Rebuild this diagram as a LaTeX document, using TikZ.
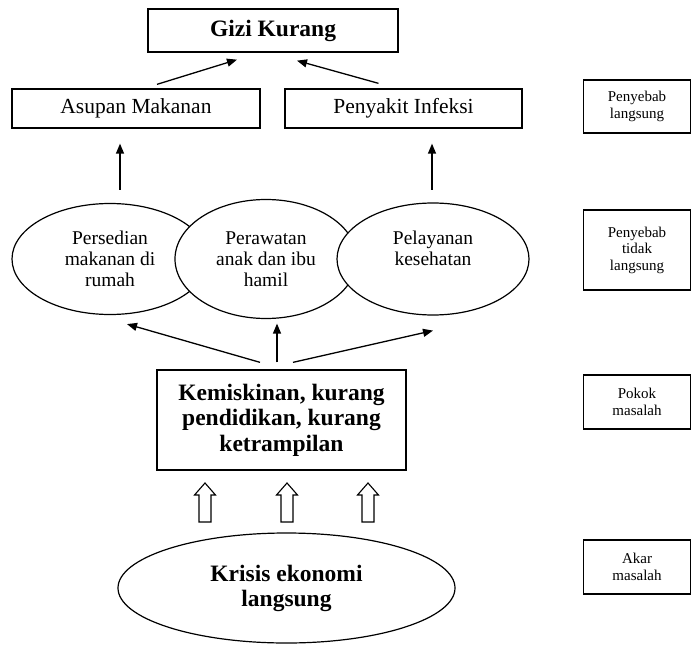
\documentclass[tikz,border=0pt]{standalone}
\usepackage{fontspec}
\setmainfont{Liberation Serif}
\usetikzlibrary{arrows.meta,shapes.geometric,calc}
\begin{document}
\begin{tikzpicture}[x=1pt,y=-1pt,
  box/.style={draw=black,line width=1.3pt,rectangle,inner sep=0pt,align=center},
  bigbold/.style={font=\bfseries\fontsize{23.5}{25.5}\selectfont},
  boxtext/.style={font=\fontsize{21.5}{24}\selectfont},
  ell/.style={draw=black,line width=1.2pt,ellipse,fill=white,inner sep=0pt,align=center,font=\fontsize{19.5}{20.8}\selectfont},
  side/.style={draw=black,line width=1.8pt,rectangle,inner sep=0pt,align=center,minimum width=107,font=\fontsize{15}{16.5}\selectfont},
  arr/.style={line width=1.3pt,-{Triangle[length=10pt,width=8pt]}},
  hollow/.pic={\draw[line width=1.1pt,fill=white,line join=miter]
      (-6,0) -- (-6,-27) -- (-10.5,-27) -- (0,-39) -- (10.5,-27) -- (6,-27) -- (6,0) -- cycle;}
]
\useasboundingbox (0,0) rectangle (692,644);

% top level
\node[box,bigbold,minimum width=250,minimum height=43] (gizi) at (273,30.5) {Gizi Kurang};
\node[box,boxtext,minimum width=248,minimum height=39] (asupan) at (136,108.5) {Asupan Makanan};
\node[box,boxtext,minimum width=237,minimum height=39] (infeksi) at (403.5,108.5) {Penyakit Infeksi};

\coordinate (g1) at ($(asupan.north)+(21,-4)$);
\coordinate (g2) at ($(infeksi.north)+(-25,-5)$);
\draw[arr] (g1) -- ($(gizi.south)+(-36,7)$);
\draw[arr] (g2) -- ($(gizi.south)+(24,8)$);

% ellipses
\node[ell,minimum width=196,minimum height=111] (persed) at (110,259) {Persedian\\makanan di\\rumah};
\node[ell,minimum width=182,minimum height=119] (rawat) at (266,259) {Perawatan\\anak dan ibu\\hamil};
\node[ell,minimum width=192,minimum height=112] (layan) at (433,259) {Pelayanan\\kesehatan\\\mbox{}};

\coordinate (p1) at (120,190);
\coordinate (p2) at (432,190);
\draw[arr,shorten >=15pt] (p1) -- (asupan.south -| p1);
\draw[arr,shorten >=15pt] (p2) -- (infeksi.south -| p2);

% pokok masalah
\node[box,bigbold,minimum width=249,minimum height=100] (miskin) at (281.5,420) {Kemiskinan, kurang\\pendidikan, kurang\\ketrampilan};
\coordinate (m1) at ($(miskin.north)+(-21.5,-7)$);
\coordinate (m2) at ($(miskin.north)+(-4.5,-7)$);
\coordinate (m3) at ($(miskin.north)+(11.5,-7)$);
\draw[arr] (m1) -- ($(persed.south)+(17,9)$);
\draw[arr] (m2) -- (m2 |- {$(rawat.south)+(0,4.5)$});
\draw[arr] (m3) -- ($(layan.south)+(0,15)$);

% akar masalah
\node[ell,font=\bfseries\fontsize{23.5}{25}\selectfont,minimum width=337,minimum height=110] (krisis) at (286.5,588) {Krisis ekonomi\\langsung};

\pic at (205,522) {hollow};
\pic at (287,522) {hollow};
\pic at (368,522) {hollow};

% side labels
\node[side,minimum height=53] (l1) at (637,106.5) {Penyebab\\langsung};
\node[side,minimum height=80] (l2) at (637,250) {Penyebab\\tidak\\langsung};
\node[side,minimum height=54] (l3) at (637,402) {Pokok\\masalah};
\node[side,minimum height=54] (l4) at (637,567) {Akar\\masalah};
\end{tikzpicture}
\end{document}
